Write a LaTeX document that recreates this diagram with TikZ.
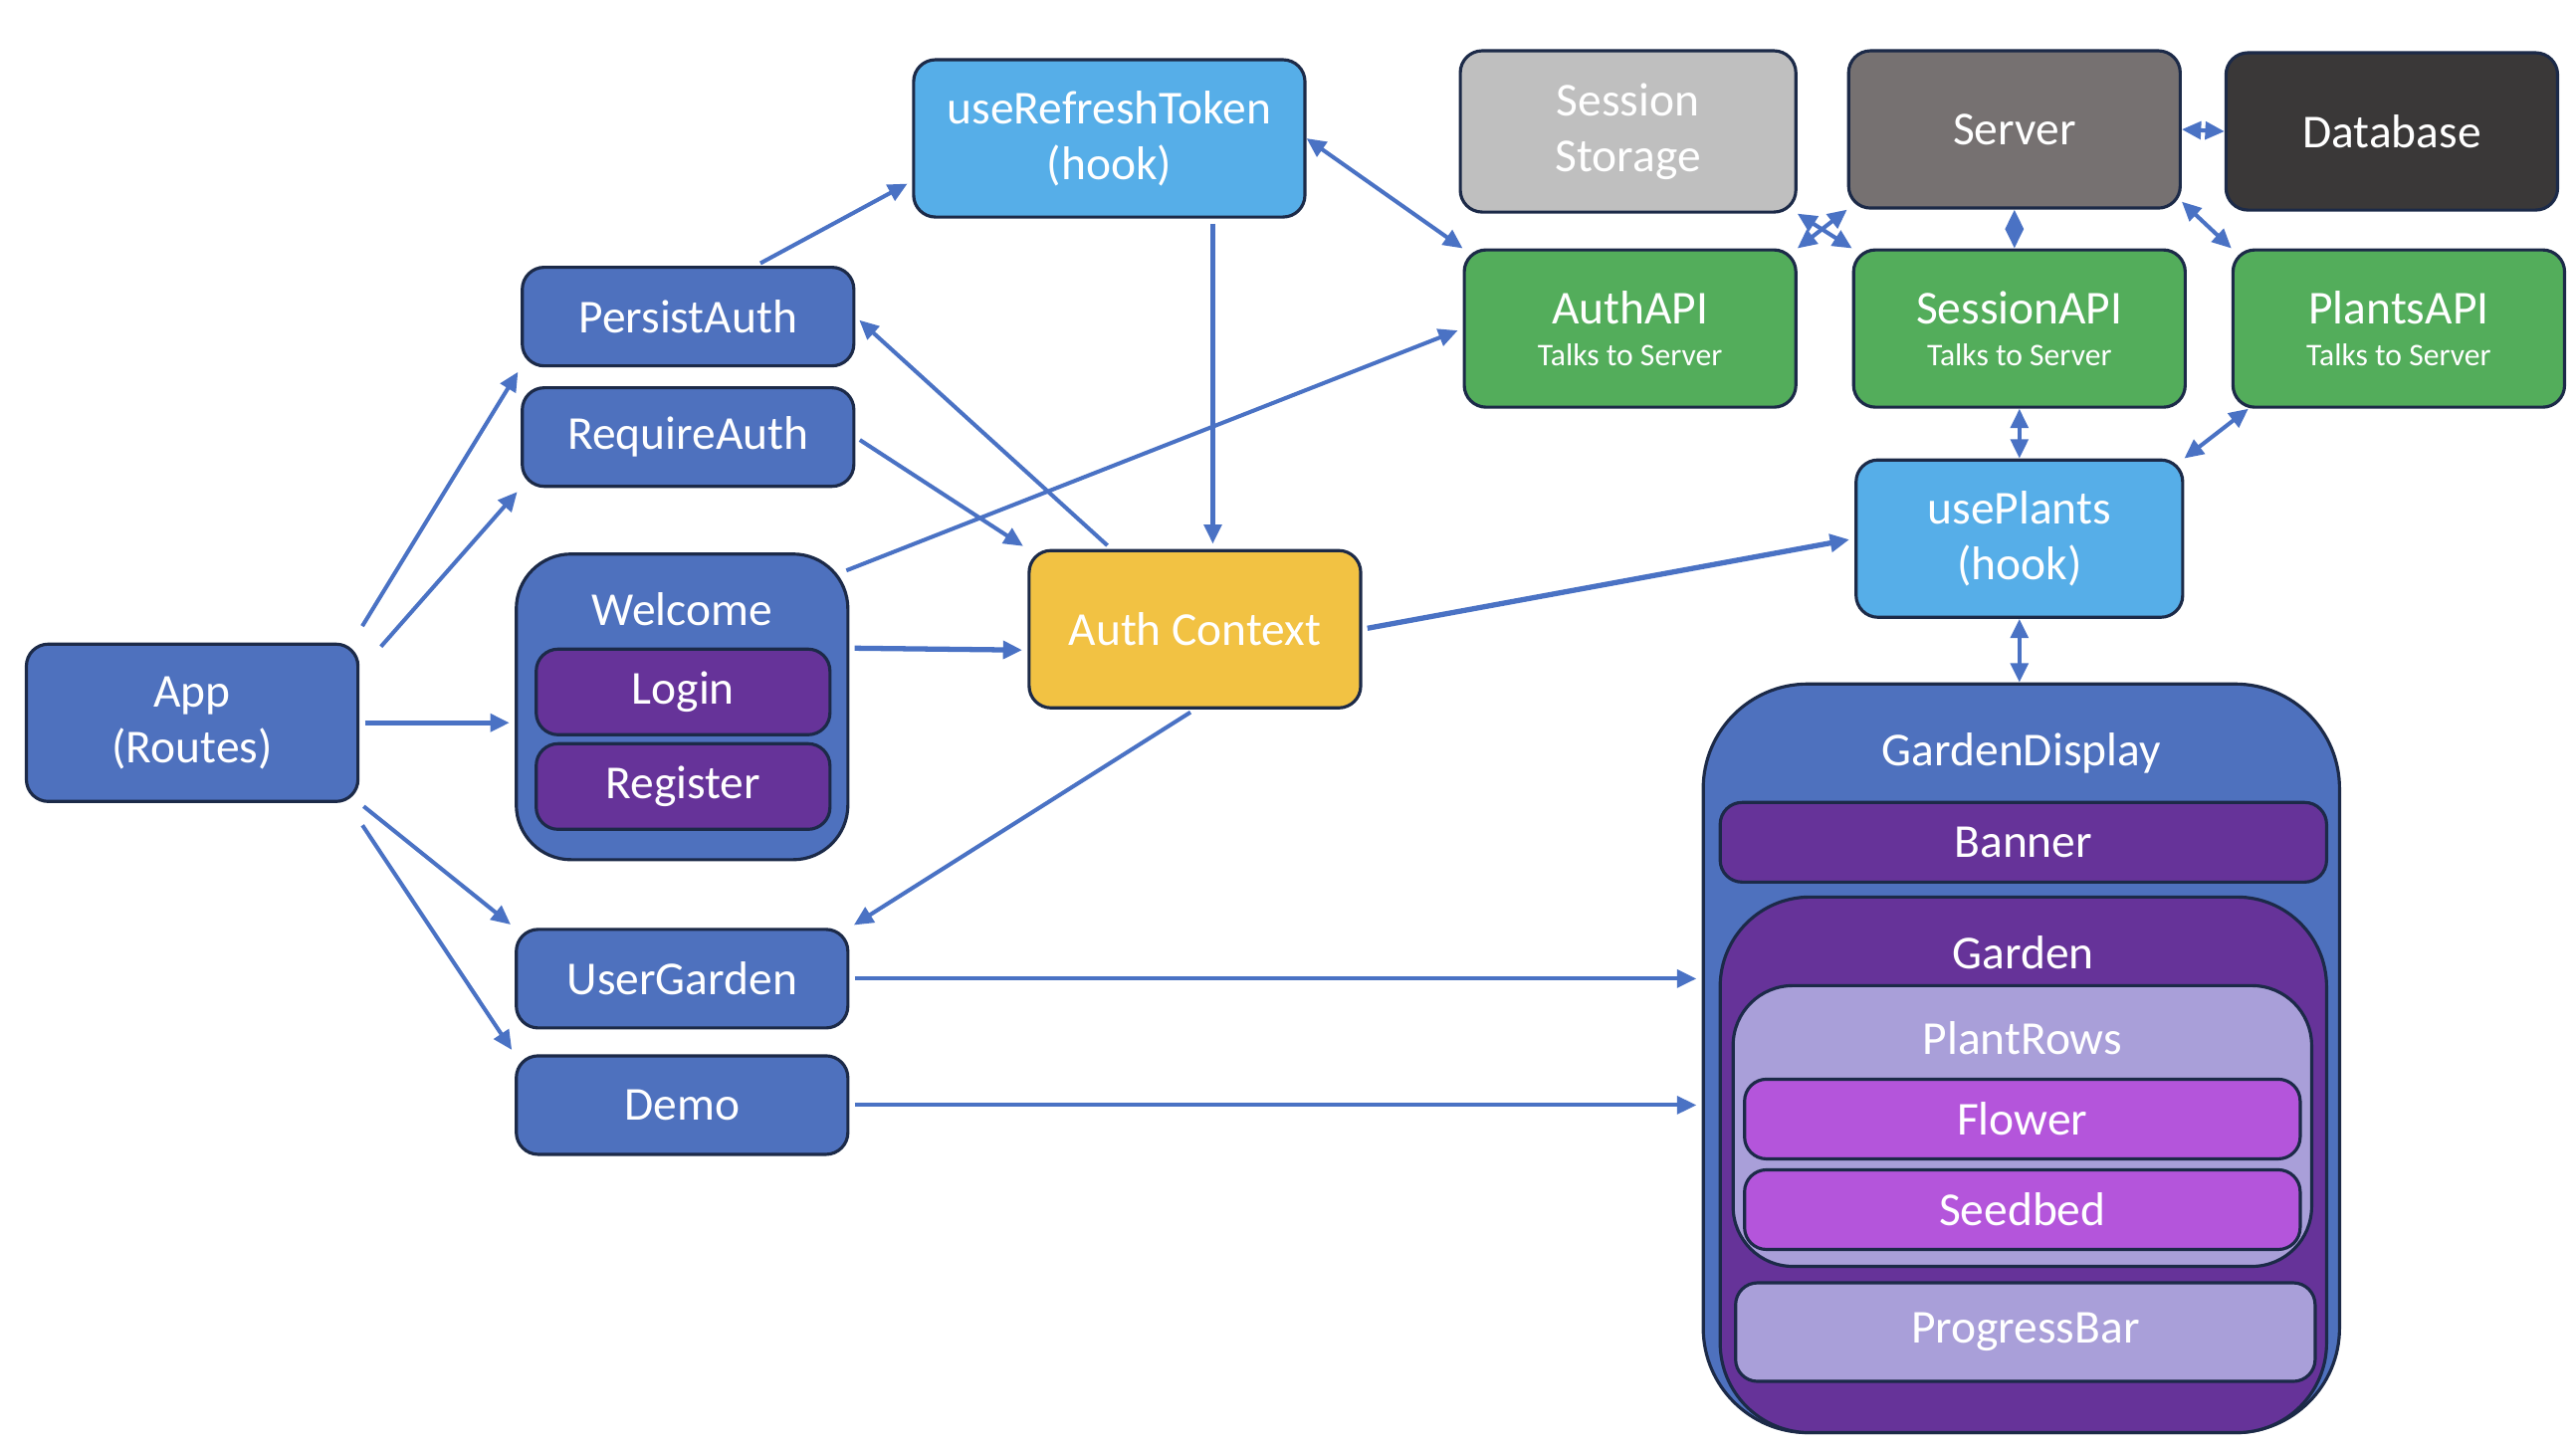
\documentclass[tikz,border=0pt]{standalone}
\usepackage{fontspec}
\setmainfont{Carlito}
\usepackage{xcolor}
\usepackage{tikz}
\usetikzlibrary{arrows.meta,calc,positioning}

\definecolor{boxblue}{HTML}{4E71BE}
\definecolor{edgeline}{HTML}{1C2A48}
\definecolor{hookblue}{HTML}{56AEE8}
\definecolor{authyellow}{HTML}{F2C243}
\definecolor{apigreen}{HTML}{53AD5B}
\definecolor{storegrey}{HTML}{BFBFBF}
\definecolor{servergrey}{HTML}{767171}
\definecolor{dbgrey}{HTML}{3A3838}
\definecolor{deeppurple}{HTML}{663399}
\definecolor{lilac}{HTML}{A99FD9}
\definecolor{orchid}{HTML}{B455DB}
\definecolor{linkblue}{HTML}{4A72C4}

\tikzset{
    comp/.style={draw=edgeline, line width=0.9pt, rounded corners=0.22cm,
        text=white, align=center, inner sep=0pt,
        font=\fontsize{13.5}{16}\selectfont,
        minimum width=3.33cm, minimum height=1.58cm},
    flat/.style={comp, minimum height=0.99cm},
    inner/.style={comp, minimum width=2.95cm, minimum height=0.86cm},
    wide/.style={comp, minimum width=6.09cm, minimum height=0.80cm},
    txt/.style={text=white, font=\fontsize{13.5}{16}\selectfont, inner sep=0pt},
    link/.style={linkblue, line width=1.15pt, shorten >=1.5pt, shorten <=1.5pt,
        -{Triangle[length=5.5pt,width=5pt]}},
    both/.style={link, shorten >=0pt, shorten <=0pt,
        {Triangle[length=5.5pt,width=5pt]}-{Triangle[length=5.5pt,width=5pt]}}
}

\newcommand{\subtxt}[1]{{\fontsize{9}{11}\selectfont #1}}

\begin{document}
\begin{tikzpicture}

    \useasboundingbox (0,0) rectangle (25.87,-14.55);

    % Routes
    \node[comp, fill=boxblue] (app) at (1.93,-7.26) {App\\(Routes)};
    \node[flat, fill=boxblue] (persist) at (6.91,-3.18) {PersistAuth};
    \node[flat, fill=boxblue] (require) at (6.91,-4.39) {RequireAuth};
    \node[flat, fill=boxblue] (usergarden) at (6.85,-9.83) {UserGarden};
    \node[flat, fill=boxblue] (demo) at (6.85,-11.10) {Demo};

    % Welcome
    \node[comp, fill=boxblue, rounded corners=0.55cm, minimum height=3.07cm] (welcome) at (6.85,-7.10) {};
    \node[txt] (welcometxt) at (6.85,-6.12) {Welcome};
    \node[inner, fill=deeppurple] (login) at (6.86,-6.95) {Login};
    \node[inner, fill=deeppurple] (register) at (6.86,-7.90) {Register};

    % Auth
    \node[comp, fill=hookblue, minimum width=3.93cm] (refresh) at (11.14,-1.39) {useRefreshToken\\(hook)};
    \node[comp, fill=authyellow] (authctx) at (12.00,-6.32) {Auth Context};

    % Backend
    \node[comp, fill=storegrey, minimum width=3.37cm, minimum height=1.62cm] (storage) at (16.35,-1.32) {Session\\Storage};
    \node[comp, fill=servergrey] (server) at (20.23,-1.30) {Server};
    \node[comp, fill=dbgrey] (database) at (24.02,-1.32) {Database};
    \node[comp, fill=apigreen] (authapi) at (16.37,-3.30) {AuthAPI\\[-4pt]\subtxt{Talks to Server}};
    \node[comp, fill=apigreen] (sessionapi) at (20.28,-3.30) {SessionAPI\\[-4pt]\subtxt{Talks to Server}};
    \node[comp, fill=apigreen] (plantsapi) at (24.09,-3.30) {PlantsAPI\\[-4pt]\subtxt{Talks to Server}};
    \node[comp, fill=hookblue, minimum width=3.28cm] (useplants) at (20.28,-5.41) {usePlants\\(hook)};

    % GardenDisplay
    \node[comp, fill=boxblue, rounded corners=1.05cm, minimum width=6.39cm, minimum height=7.52cm] (display) at (20.30,-10.63) {};
    \node[txt] (displaytxt) at (20.30,-7.57) {GardenDisplay};
    \node[wide, fill=deeppurple] (banner) at (20.32,-8.46) {Banner};
    \node[comp, fill=deeppurple, rounded corners=0.9cm, minimum width=6.09cm, minimum height=5.38cm] (garden) at (20.32,-11.70) {};
    \node[txt] (gardentxt) at (20.32,-9.57) {Garden};
    \node[comp, fill=lilac, rounded corners=0.6cm, minimum width=5.81cm, minimum height=2.82cm] (plantrows) at (20.31,-11.31) {};
    \node[txt] (plantrowstxt) at (20.31,-10.43) {PlantRows};
    \node[wide, fill=orchid, minimum width=5.58cm] (flower) at (20.31,-11.24) {Flower};
    \node[wide, fill=orchid, minimum width=5.58cm] (seedbed) at (20.31,-12.15) {Seedbed};
    \node[wide, fill=lilac, minimum width=5.82cm, minimum height=0.99cm] (progress) at (20.34,-13.38) {ProgressBar};

    % App links
    \draw[link] ([yshift=0.12cm]app.north east) -- (persist.south west);
    \draw[link] ([xshift=0.18cm,yshift=-0.08cm]app.north east) -- (require.south west);
    \draw[link, line width=1.5pt] (app.east) -- (app.east -| welcome.west);
    \draw[link] (app.south east) -- (usergarden.north west);
    \draw[link] ([yshift=-0.18cm]app.south east) -- (demo.north west);

    % Auth links
    \draw[link] ([xshift=0.68cm]persist.north) -- ([yshift=-0.43cm]refresh.west);
    \draw[link] ([xshift=1.04cm]refresh.south) -- ([xshift=1.04cm]refresh.south |- authctx.north);
    \draw[link] ([xshift=-0.84cm]authctx.north) -- (persist.east);
    \draw[link] (require.east) -- (authctx.north west);
    \draw[link] ([xshift=-0.08cm,yshift=-0.2cm]welcome.north east) -- (authapi.west);
    \draw[link, line width=1.5pt] ([yshift=0.59cm]welcome.east) -- ([yshift=-0.21cm]authctx.west);
    \draw[link] (authctx.south) -- (usergarden.north east);
    \draw[link, line width=1.5pt] (authctx.east) -- (useplants.west);
    \draw[both] (refresh.east) -- (authapi.north west);

    % Backend links
    \draw[both] (storage.south east) -- (sessionapi.north west);
    \draw[both] (authapi.north east) -- (server.south west);
    \draw[both] (server.east) -- (database.west);
    \draw[both] (server.south) -- (server.south |- sessionapi.north);
    \draw[both] ([yshift=0.08cm]server.south east) -- (plantsapi.north west);
    \draw[both] (sessionapi.south) -- (sessionapi.south |- useplants.north);
    \draw[both] ([xshift=0.17cm]plantsapi.south west) -- (useplants.north east);
    \draw[both] (useplants.south) -- (useplants.south |- display.north);

    % Garden links
    \draw[link] (usergarden.east) -- (usergarden.east -| display.west);
    \draw[link] (demo.east) -- (demo.east -| display.west);

\end{tikzpicture}
\end{document}
